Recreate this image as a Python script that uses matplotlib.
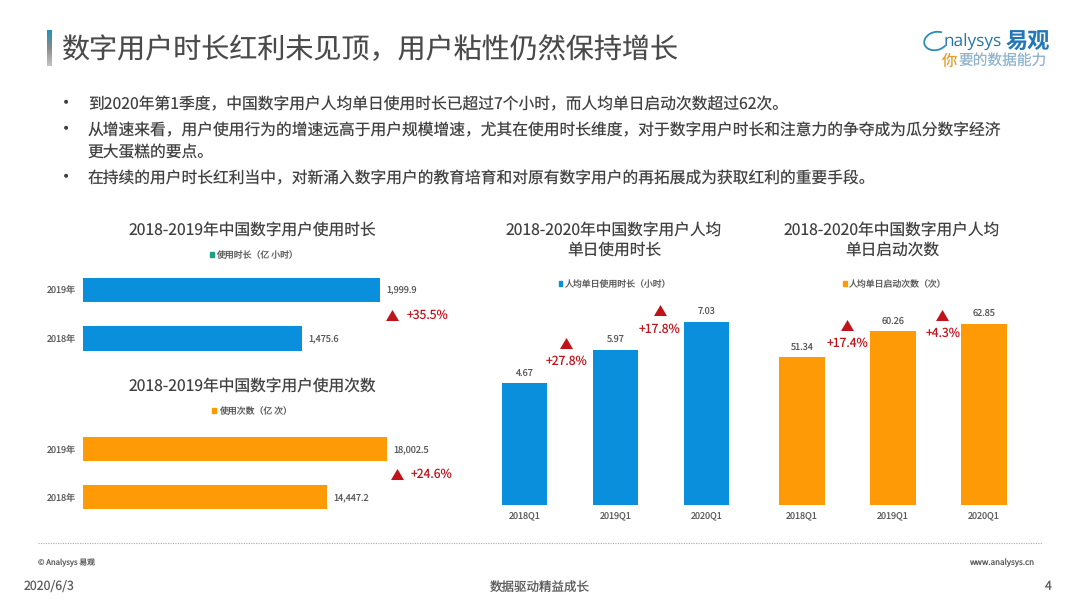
import numpy as np
import matplotlib
matplotlib.use("Agg")
import matplotlib.pyplot as plt
from matplotlib.patches import Arc, Patch

plt.rcParams["font.family"] = ["Noto Sans CJK SC", "DejaVu Sans"]
plt.rcParams["text.hinting"] = "no_hinting"

W, H = 1080, 608
BLUE = "#0a8fdc"
ORANGE = "#fe9a05"
RED = "#c0141c"
TEXT = "#404040"
LABEL = "#595959"
TRIANGLE = [(-1, -0.85), (1, -0.85), (0, 0.85)]

# data
years = ["2019年", "2018年"]
hours_total = [1999.9, 1475.6]
times_total = [18002.5, 14447.2]
quarters = ["2018Q1", "2019Q1", "2020Q1"]
hours_daily = [4.67, 5.97, 7.03]
launches_daily = [51.34, 60.26, 62.85]

title = "数字用户时长红利未见顶，用户粘性仍然保持增长"
bullets = [
    (104.5, "到2020年第1季度，中国数字用户人均单日使用时长已超过7个小时，而人均单日启动次数超过62次。", True),
    (130.5, "从增速来看，用户使用行为的增速远高于用户规模增速，尤其在使用时长维度，对于数字用户时长和注意力的争夺成为瓜分数字经济", True),
    (152.5, "更大蛋糕的要点。", False),
    (178.5, "在持续的用户时长红利当中，对新涌入数字用户的教育培育和对原有数字用户的再拓展成为获取红利的重要手段。", True),
]


def px_axes(fig, left, top, right, bottom):
    # 用像素位置建立座標軸
    ax = fig.add_axes([left / W, 1 - bottom / H, (right - left) / W, (bottom - top) / H])
    ax.patch.set_alpha(0)
    for s in ax.spines.values():
        s.set_visible(False)
    ax.tick_params(length=0, labelsize=6.5, labelcolor=LABEL)
    return ax


def add_legend(ax, fig, color, label, x, y):
    ax.legend(
        handles=[Patch(color=color, label=label)],
        loc="center",
        bbox_to_anchor=(x / W, 1 - y / H),
        bbox_transform=fig.transFigure,
        frameon=False,
        fontsize=6.4,
        labelcolor=LABEL,
        handlelength=0.4,
        handleheight=0.4,
        handletextpad=0.3,
        borderpad=0,
    )


def hbar_chart(fig, box, values, color, scale, height):
    ax = px_axes(fig, *box)
    pos = np.arange(len(values))[::-1]
    bars = ax.barh(pos, values, height=height, color=color)
    ax.set_xlim(0, (box[2] - box[0]) / scale)
    ax.set_ylim(-0.5, 1.5)
    ax.set_yticks(pos, years)
    ax.set_xticks([])
    ax.tick_params(axis="y", pad=4.8)
    ax.bar_label(bars, fmt="{:,.1f}", padding=4.8, fontsize=6.6, color=LABEL)
    return ax


def col_chart(fig, box, values, color, scale):
    ax = px_axes(fig, *box)
    bars = ax.bar(quarters, values, width=0.5, color=color)
    ax.set_xlim(-0.5, 2.5)
    ax.set_ylim(0, (box[3] - box[1]) / scale)
    ax.set_yticks([])
    ax.tick_params(axis="x", pad=4)
    ax.bar_label(bars, fmt="%.2f", padding=4, fontsize=6.6, color=LABEL)
    return ax


def growth(canvas, tx, ty, lx, ly, text):
    canvas.scatter([tx], [ty], marker=TRIANGLE, s=88, color=RED, linewidths=0)
    canvas.text(lx, ly, text, color=RED, fontsize=8.8, ha="center", va="center")


fig = plt.figure(figsize=(W / 100, H / 100), dpi=100, facecolor="white")
canvas = fig.add_axes([0, 0, 1, 1])
canvas.set_xlim(0, W)
canvas.set_ylim(H, 0)
canvas.axis("off")

# 標題與左側漸層條
grad = np.linspace(0, 1, 64).reshape(-1, 1)
cmap = matplotlib.colors.LinearSegmentedColormap.from_list("bar", ["#1f93b8", "#8a8a8a", "#c4c4c4"])
canvas.imshow(grad, extent=(47, 51.5, 66, 30), cmap=cmap, aspect="auto", zorder=1)
canvas.set_xlim(0, W)
canvas.set_ylim(H, 0)
canvas.text(61.5, 50.5, title, fontsize=20.2, color="#4a4a4a", va="center")

# logo
canvas.add_patch(Arc((936, 41), 24, 18, angle=-15, theta1=40, theta2=320, color="#2a8fb0", lw=1.3))
canvas.text(944, 42, "nalysys", fontsize=12.4, color="#2277a8", va="center", family="Open Sans")
canvas.text(1006, 42, "易观", fontsize=16, color="#2277b8", va="center", fontweight="bold")
canvas.text(942, 61, "你", fontsize=11, color="#e0a030", va="center")
canvas.text(958, 61, "要的数据能力", fontsize=10.6, color="#8fb4cc", va="center")

# 條列文字
for y, line, has_dot in bullets:
    if has_dot:
        canvas.text(66, y - 1.5, "•", fontsize=10, color=TEXT, ha="center", va="center", family="DejaVu Sans")
    canvas.text(88, y, line, fontsize=11.35, color=TEXT, va="center")

# 圖表
ax1 = hbar_chart(fig, (83, 265.4, 400, 362.9), hours_total, BLUE, 0.1485, 0.5)
ax2 = hbar_chart(fig, (83, 425.25, 400, 521.25), times_total, ORANGE, 0.01686, 0.49)
ax3 = col_chart(fig, (479, 300, 752, 505), hours_daily, BLUE, 26.03)
ax4 = col_chart(fig, (756.5, 300, 1029.5, 505), launches_daily, ORANGE, 2.88)

add_legend(ax1, fig, "#1aa088", "使用时长（亿 小时）", 254, 255)
add_legend(ax2, fig, ORANGE, "使用次数（亿 次）", 252, 411)
add_legend(ax3, fig, BLUE, "人均单日使用时长（小时）", 615, 284)
add_legend(ax4, fig, ORANGE, "人均单日启动次数（次）", 895, 284)

# 圖表標題
for x, y, t in [
    (252, 230, "2018-2019年中国数字用户使用时长"),
    (252, 386, "2018-2019年中国数字用户使用次数"),
    (614, 230, "2018-2020年中国数字用户人均"),
    (614, 250, "单日使用时长"),
    (892, 230, "2018-2020年中国数字用户人均"),
    (892, 250, "单日启动次数"),
]:
    canvas.text(x, y, t, fontsize=11.3, color=TEXT, ha="center", va="center")

# 增長標記
growth(canvas, 392, 315, 428, 315, "+35.5%")
growth(canvas, 397, 474, 432, 474, "+24.6%")
growth(canvas, 566, 343, 567, 361, "+27.8%")
growth(canvas, 660, 310, 660, 329, "+17.8%")
growth(canvas, 847, 325, 848, 343, "+17.4%")
growth(canvas, 942, 315, 943, 333, "+4.3%")

# 頁尾
canvas.plot([38, 1042], [543, 543], color="#aaaaaa", lw=0.8, ls=(0, (1, 1.2)))
canvas.text(38, 562.5, "© Analysys 易观", fontsize=5.6, color=LABEL, va="center")
canvas.text(1034, 562.5, "www.analysys.cn", fontsize=5.8, color=LABEL, ha="right", va="center")
canvas.text(24, 586.5, "2020/6/3", fontsize=8.9, color=LABEL, va="center")
canvas.text(540, 587.5, "数据驱动精益成长", fontsize=9, color=LABEL, ha="center", va="center")
canvas.text(1048, 586.5, "4", fontsize=8.9, color=LABEL, ha="center", va="center")

fig.savefig("out.png", dpi=100)
